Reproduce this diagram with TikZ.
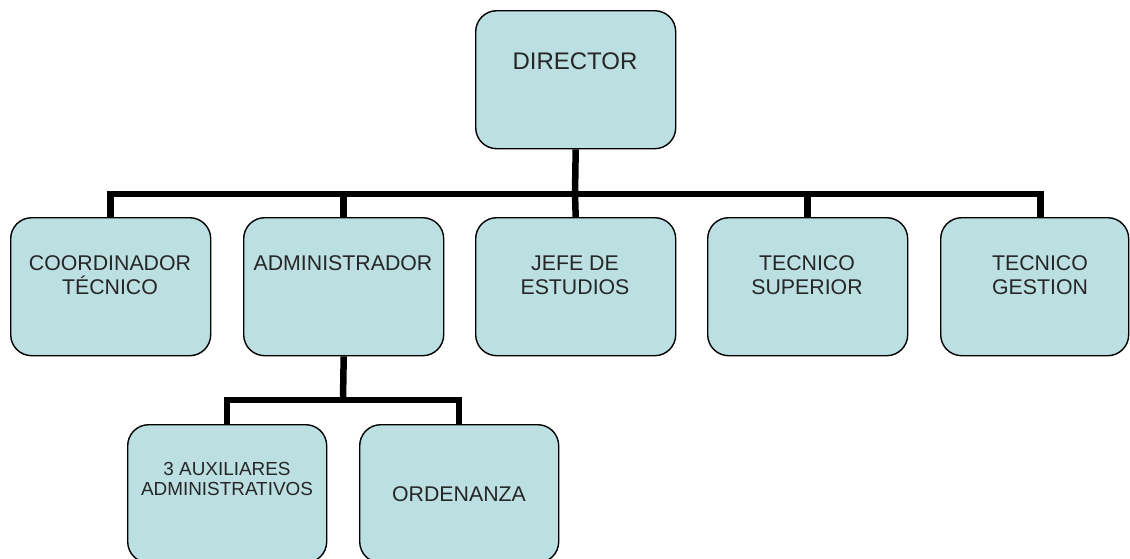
\documentclass[tikz,border=0pt]{standalone}
\usepackage{fontspec}
\setmainfont{Liberation Sans}
\definecolor{boxfill}{RGB}{188,223,226}
\definecolor{txt}{RGB}{38,38,38}
\begin{document}
\begin{tikzpicture}[x=1pt,y=-1pt,
  box/.style={draw=black, line width=1.4pt, fill=boxfill, rounded corners=21pt,
    minimum width=200pt, minimum height=138pt, inner sep=0pt, anchor=north west},
  lbl/.style={font=\fontsize{21.3}{24}\selectfont, text=txt, align=center, inner sep=0pt},
  small/.style={font=\fontsize{18.9}{20.5}\selectfont, text=txt, align=center, inner sep=0pt},
  conn/.style={line width=6.5pt, black, line join=miter}]
\useasboundingbox (0,0) rectangle (1130,558);
\clip (0,0) rectangle (1130,558);
% boxes
\node[box] (dir) at (475,10) {};
\node[box] (coord) at (10,217) {};
\node[box] (admin) at (243,217) {};
\node[box] (jefe) at (475,217) {};
\node[box] (tsup) at (707,217) {};
\node[box, minimum width=188pt] (tges) at (940,217) {};
\node[box, minimum width=199pt] (aux) at (127,424) {};
\node[box, minimum width=199pt] (ord) at (359,424) {};
% connectors
\coordinate (bus) at (575,194);
\coordinate (bus2) at (343,400);
\draw[conn] (dir.south) -- (bus);
\draw[conn] (coord.north) |- (bus) -| ([xshift=6pt]tges.north);
\draw[conn] (admin.north) -- (admin.north |- bus);
\draw[conn] (jefe.north) -- (bus);
\draw[conn] (tsup.north) -- (tsup.north |- bus);
\draw[conn] (admin.south) -- (bus2);
\draw[conn] (aux.north) |- (bus2) -| (ord.north);
% labels
\node[lbl, font=\fontsize{24}{27}\selectfont] (tdir) at (575,61) {DIRECTOR};
\node[lbl] (tcoord) at (110,275) {COORDINADOR\\TÉCNICO};
\node[lbl] (tadmin) at (343,263) {ADMINISTRADOR};
\node[lbl] (tjefe) at (575,275) {JEFE DE\\ESTUDIOS};
\node[lbl] (ttsup) at (807,275) {TECNICO\\SUPERIOR};
\node[lbl] (ttges) at (1040,275) {TECNICO\\GESTION};
\node[small] (taux) at (227,479) {3 AUXILIARES\\ADMINISTRATIVOS};
\node[lbl] (tord) at (459,494) {ORDENANZA};
\end{tikzpicture}
\end{document}
